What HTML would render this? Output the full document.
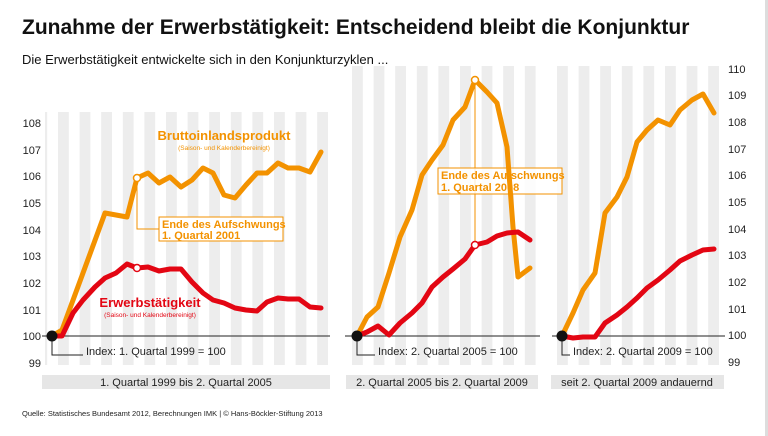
<!DOCTYPE html>
<html><head><meta charset="utf-8"><style>
body{margin:0;background:#fff;}
svg{display:block;font-family:"Liberation Sans",sans-serif;}
</style></head><body>
<svg width="768" height="436" viewBox="0 0 768 436">
<defs>
<pattern id="st1" x="58" y="0" width="21.6" height="10" patternUnits="userSpaceOnUse"><rect width="10.8" height="10" fill="#ededed"/></pattern>
<pattern id="st2" x="352" y="0" width="21.6" height="10" patternUnits="userSpaceOnUse"><rect width="10.8" height="10" fill="#ededed"/></pattern>
<pattern id="st3" x="557" y="0" width="21.6" height="10" patternUnits="userSpaceOnUse"><rect width="10.8" height="10" fill="#ededed"/></pattern>
</defs>
<rect x="765" y="0" width="3" height="436" fill="#ddd"/>
<text x="22" y="34" font-size="21" font-weight="bold" fill="#111">Zunahme der Erwerbstätigkeit: Entscheidend bleibt die Konjunktur</text>
<text x="22" y="64" font-size="13" fill="#111">Die Erwerbstätigkeit entwickelte sich in den Konjunkturzyklen ...</text>
<rect x="45" y="112" width="285" height="253" fill="url(#st1)"/>
<rect x="350" y="66" width="190" height="299" fill="url(#st2)"/>
<rect x="552" y="66" width="172" height="299" fill="url(#st3)"/>
<g font-size="11" fill="#222" text-anchor="end">
<text x="41" y="127">108</text><text x="41" y="154">107</text><text x="41" y="180">106</text><text x="41" y="207">105</text><text x="41" y="234">104</text><text x="41" y="260">103</text><text x="41" y="287">102</text><text x="41" y="314">101</text><text x="41" y="340">100</text><text x="41" y="367">99</text>
</g>
<g font-size="11" fill="#222">
<text x="728" y="73">110</text><text x="728" y="99">109</text><text x="728" y="126">108</text><text x="728" y="153">107</text><text x="728" y="179">106</text><text x="728" y="206">105</text><text x="728" y="233">104</text><text x="728" y="259">103</text><text x="728" y="286">102</text><text x="728" y="313">101</text><text x="728" y="339">100</text><text x="728" y="366">99</text>
</g>
<g stroke="#222" stroke-width="1">
<line x1="42" y1="336" x2="330" y2="336"/><line x1="345" y1="336" x2="540" y2="336"/><line x1="552" y1="336" x2="725" y2="336"/>
</g>
<g stroke="#f39200" stroke-width="1" fill="none">
<polyline points="137,178 137,229 159,229"/>
<rect x="159" y="217" width="124" height="24" fill="#fff"/>
<line x1="475" y1="80" x2="475" y2="245"/>
<rect x="438" y="168" width="124" height="26" fill="#fff" fill-opacity="0.8"/>
</g>
<g font-size="11" font-weight="bold" fill="#f39200">
<text x="162" y="228">Ende des Aufschwungs</text><text x="162" y="239">1. Quartal 2001</text>
<text x="441" y="179">Ende des Aufschwungs</text><text x="441" y="191">1. Quartal 2008</text>
</g>
<g fill="none" stroke-width="5" stroke-linejoin="round" stroke-linecap="round">
<polyline stroke="#f39200" points="52,336 62,330 83,273 105,213 127,217 137,178 148,173 159,183 170,177 181,187 192,180 203,168 213,173 224,195 235,198 246,185 257,173 267,173 278,163 288,168 299,168 310,172 321,152"/>
<polyline stroke="#e30613" points="52,336 62,336 73,313 83,300 95,287 105,278 116,273 127,264 137,268 148,267 159,271 170,269 181,269 192,282 203,293 213,300 224,303 235,308 246,310 257,311 267,302 278,298 288,299 299,299 310,307 321,308"/>
<polyline stroke="#f39200" points="357,336 367,317 378,307 389,273 400,237 412,210 422,175 432,160 443,145 453,120 465,107 475,80 487,92 497,103 507,147 513,227 518,277 530,268"/>
<polyline stroke="#e30613" points="357,336 367,332 378,326 389,335 400,323 412,313 422,303 432,287 443,277 453,269 465,259 475,245 487,242 497,236 507,233 518,232 530,240"/>
<polyline stroke="#f39200" points="562,336 573,313 583,290 595,273 605,213 617,197 627,177 637,142 647,130 658,120 670,125 680,110 692,100 703,94 714,113"/>
<polyline stroke="#e30613" points="562,336 573,338 583,337 595,337 605,323 617,315 627,307 637,298 647,288 658,280 670,270 680,261 692,255 703,250 714,249"/>
</g>
<g fill="#fff" stroke="#f39200" stroke-width="1.5"><circle cx="137" cy="178" r="3.5"/><circle cx="475" cy="80" r="3.5"/></g>
<g fill="#fff" stroke="#e30613" stroke-width="1.5"><circle cx="137" cy="268" r="3.5"/><circle cx="475" cy="245" r="3.5"/></g>
<g text-anchor="middle" fill="#f39200"><text x="224" y="140" font-size="13" font-weight="bold">Bruttoinlandsprodukt</text><text x="224" y="150" font-size="6.5">(Saison- und Kalenderbereinigt)</text></g>
<g text-anchor="middle" fill="#e30613"><text x="150" y="307" font-size="13" font-weight="bold">Erwerbstätigkeit</text><text x="150" y="317" font-size="6.5">(Saison- und Kalenderbereinigt)</text></g>
<g stroke="#222" fill="none" stroke-width="1"><polyline points="52,336 52,355 83,355"/><polyline points="357,336 357,355 375,355"/><polyline points="562,336 562,355 570,355"/></g>
<g fill="#111"><circle cx="52" cy="336" r="5.5"/><circle cx="357" cy="336" r="5.5"/><circle cx="562" cy="336" r="5.5"/></g>
<g font-size="11" fill="#222"><text x="86" y="355">Index: 1. Quartal 1999 = 100</text><text x="378" y="355">Index: 2. Quartal 2005 = 100</text><text x="573" y="355">Index: 2. Quartal 2009 = 100</text></g>
<g fill="#e6e6e6"><rect x="42" y="375" width="288" height="14"/><rect x="346" y="375" width="192" height="14"/><rect x="551" y="375" width="173" height="14"/></g>
<g font-size="11" fill="#222" text-anchor="middle"><text x="186" y="386">1. Quartal 1999 bis 2. Quartal 2005</text><text x="442" y="386">2. Quartal 2005 bis 2. Quartal 2009</text><text x="637" y="386">seit 2. Quartal 2009 andauernd</text></g>
<text x="22" y="416" font-size="7.5" fill="#222">Quelle: Statistisches Bundesamt 2012, Berechnungen IMK | © Hans-Böckler-Stiftung 2013</text>
</svg>
</body></html>
